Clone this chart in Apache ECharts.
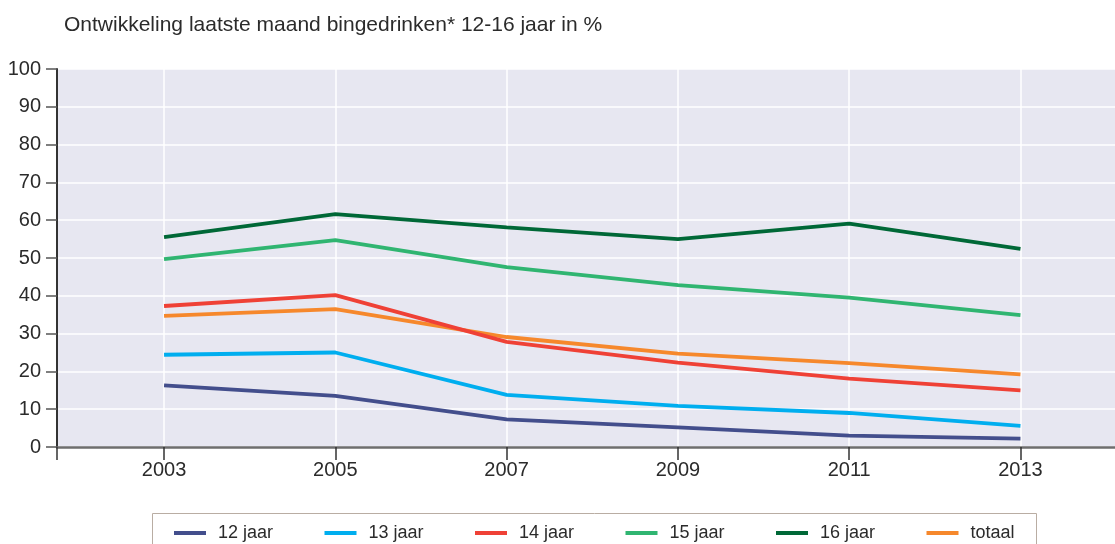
<!DOCTYPE html>
<html>
<head>
<meta charset="utf-8">
<script src="https://cdn.jsdelivr.net/npm/echarts@6/dist/echarts.min.js"></script>
<style>
  html, body { margin: 0; padding: 0; background: #fff; }
  #chart { width: 1115px; height: 544px; }
</style>
</head>
<body>
<div id="chart"></div>
<script>
// jaren en percentages per leeftijd
const years = [2003, 2005, 2007, 2009, 2011, 2013]
const jaar12 = [16.3, 13.5, 7.3, 5.2, 3.0, 2.2]
const jaar13 = [24.4, 25.0, 13.8, 10.9, 9.0, 5.6]
const jaar14 = [37.3, 40.2, 27.8, 22.3, 18.1, 15.0]
const jaar15 = [49.7, 54.7, 47.6, 42.8, 39.5, 34.9]
const jaar16 = [55.5, 61.6, 58.1, 55.0, 59.1, 52.4]
const totaal = [34.7, 36.5, 29.1, 24.7, 22.2, 19.2]
const seriesNames = ['12 jaar', '13 jaar', '14 jaar', '15 jaar', '16 jaar', 'totaal']
const seriesColors = ['#434e8c', '#00aeef', '#ef4136', '#30b571', '#006837', '#f6882c']

const textColor = '#2b2b2b'
const fontFamily = 'Liberation Sans, Arial, sans-serif'

const chart = echarts.init(document.getElementById('chart'), null, { renderer: 'canvas' })

function toPoints(values) {
  return values.map((v, i) => [years[i], v])
}

const seriesData = [jaar12, jaar13, jaar14, jaar15, jaar16, totaal]

// één legenda per reeks, zodat de afstand gelijk blijft
const legends = seriesNames.map((name, i) => ({
  left: 174 + 150.5 * i,
  top: 524,
  padding: 0,
  icon: 'rect',
  itemWidth: 32,
  itemHeight: 4,
  data: [name],
  textStyle: {
    color: textColor,
    fontSize: 18,
    fontFamily: fontFamily,
    padding: [0, 0, 0, 7]
  }
}))

chart.setOption({
  animation: false,
  title: {
    text: 'Ontwikkeling laatste maand bingedrinken* 12-16 jaar in %',
    left: 59,
    top: 10,
    textStyle: { color: textColor, fontWeight: 'normal', fontSize: 21, fontFamily: fontFamily }
  },
  grid: {
    left: 57,
    right: 0,
    top: 69,
    bottom: 97,
    show: true,
    backgroundColor: '#e7e7f1',
    borderWidth: 0
  },
  legend: legends,
  graphic: [{
    type: 'rect',
    shape: { x: 152.5, y: 513.5, width: 884, height: 60 },
    style: { fill: 'none', stroke: '#b9ada3', lineWidth: 1 },
    silent: true
  }],
  xAxis: {
    type: 'value',
    min: 2001.75,
    max: 2014.104,
    axisLine: { show: true, onZero: false, lineStyle: { color: '#6e6e6e', width: 2.5 } },
    axisTick: {
      show: true,
      customValues: [2001.75].concat(years),
      length: 13,
      lineStyle: { color: '#333', width: 1.5 }
    },
    axisLabel: {
      customValues: years,
      formatter: v => String(v),
      margin: 13,
      color: textColor,
      fontSize: 20,
      fontFamily: fontFamily
    },
    splitLine: {
      show: true,
      customValues: years,
      lineStyle: { color: '#ffffff', width: 1.5 }
    }
  },
  yAxis: {
    type: 'value',
    min: 0,
    max: 100,
    interval: 10,
    axisLine: { show: true, lineStyle: { color: '#333', width: 2 } },
    axisTick: { show: true, length: 11, lineStyle: { color: '#555', width: 1.5 } },
    axisLabel: {
      margin: 16,
      color: textColor,
      fontSize: 20,
      fontFamily: fontFamily
    },
    splitLine: { show: true, lineStyle: { color: '#ffffff', width: 1.5 } }
  },
  series: seriesData.map((vals, i) => ({
    name: seriesNames[i],
    type: 'line',
    data: toPoints(vals),
    symbol: 'none',
    color: seriesColors[i],
    lineStyle: { width: 3.8, color: seriesColors[i] },
    z: 10 - i
  }))
})
</script>
</body>
</html>
